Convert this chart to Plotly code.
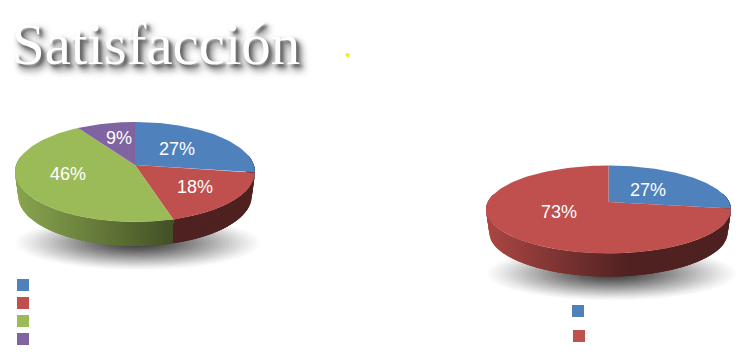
import numpy as np
import plotly.graph_objects as go

W, H = 753, 357
PAGE_MARGIN = 8  # the browser's default body margin around the figure
TITLE = "Satisfacción"

left_values = [27.3, 18.2, 45.5, 9.1]
left_colors = ["#4f81bd", "#c0504d", "#9bbb59", "#8064a2"]
right_values = [27.3, 72.7]
right_colors = ["#4f81bd", "#c0504d"]

# (centre x, centre y, radius x, radius y, apex y, depth, x where the side is darkest)
left_geo = dict(cx=135.0, cy=172.0, rx=120.0, ry=50.0, ay=165.0, depth=24.0, dark_x=175.0)
right_geo = dict(cx=608.5, cy=209.5, rx=122.5, ry=44.0, ay=202.0, depth=23.0, dark_x=625.0)
TAPER = 0.972

left_labels = [("27%", 177, 149), ("18%", 195, 187), ("46%", 68, 174), ("9%", 119, 138)]
right_labels = [("27%", 648, 190), ("73%", 559, 212)]

left_legend_y = [285, 303, 321, 339]
left_legend_x = 23
right_legend = [(578, 311), (579, 336)]


def rgb(h):
    return np.array([int(h[i:i + 2], 16) for i in (1, 3, 5)], float)


def css(c):
    return "rgb(%d,%d,%d)" % tuple(int(round(v)) for v in c)


def rim(g, turn):
    """Point where the ray at `turn` from the off-centre apex meets the ellipse."""
    dx = np.sin(turn) * g["rx"]
    dy = -np.cos(turn) * g["ry"]
    oy = g["ay"] - g["cy"]
    a = (dx / g["rx"]) ** 2 + (dy / g["ry"]) ** 2
    b = 2 * oy * dy / g["ry"] ** 2
    c = (oy / g["ry"]) ** 2 - 1
    s = (-b + np.sqrt(b * b - 4 * a * c)) / (2 * a)
    return g["cx"] + s * dx, g["ay"] + s * dy


def poly(fig, xs, ys, color, line=0.0):
    fig.add_trace(go.Scatter(
        x=list(xs), y=list(ys), mode="lines", fill="toself", fillcolor=color,
        line=dict(color=color, width=line), hoverinfo="skip", showlegend=False))


def shadow(fig, g):
    sx, sy = g["cx"] + 3, g["cy"] + g["ry"] + g["depth"] - 3
    steps = 32
    t = np.linspace(0, 2 * np.pi, 90)
    for i in range(steps):
        k = 1 - i / steps
        alpha = 0.018 + 0.052 * i / steps
        poly(fig, sx + (g["rx"] + 2) * k * np.cos(t), sy + 27 * k * np.sin(t),
             "rgba(0,0,0,%.3f)" % alpha)


def pie(fig, g, values, colors):
    total = sum(values)
    fr = np.cumsum([0] + list(values)) / total * 2 * np.pi
    shadow(fig, g)
    left_edge = g["cx"] - g["rx"]
    for i, col in enumerate(colors):
        a0, a1 = max(fr[i], np.pi / 2 - 0.2), min(fr[i + 1], 3 * np.pi / 2 + 0.2)
        if a1 <= a0:
            continue
        n = max(2, int((a1 - a0) * 45))
        ts = np.linspace(a0, a1, n + 1)
        base = rgb(col)
        step = ts[1] - ts[0]
        for t0, t1 in zip(ts[:-1], ts[1:]):
            # every strip laps over the one drawn before it, so no seam shows
            arc = np.linspace(max(a0, t0 - 1.5 * step), t1, 5)
            pts = [rim(g, t) for t in arc]
            xs = [p[0] for p in pts]
            ys = [p[1] for p in pts]
            x0, _ = rim(g, t0)
            x1, _ = rim(g, t1)
            u = np.clip(((x0 + x1) / 2 - left_edge) / (g["dark_x"] - left_edge), 0, 1)
            c = css(base * (0.88 + (0.41 - 0.88) * u))
            low_x = [g["cx"] + (x - g["cx"]) * TAPER for x in xs[::-1]]
            poly(fig, xs + low_x, ys + [y + g["depth"] for y in ys[::-1]], c)
    for i, col in enumerate(colors):
        ts = np.linspace(fr[i], fr[i + 1], 120)
        pts = [rim(g, t) for t in ts]
        poly(fig, [g["cx"]] + [p[0] for p in pts], [g["ay"]] + [p[1] for p in pts], col)


fig = go.Figure()
pie(fig, left_geo, left_values, left_colors)
pie(fig, right_geo, right_values, right_colors)

fig.add_trace(go.Scatter(
    x=[left_legend_x] * len(left_legend_y) + [p[0] for p in right_legend],
    y=left_legend_y + [p[1] for p in right_legend],
    mode="markers",
    marker=dict(symbol="square", size=12, color=left_colors + right_colors, line=dict(width=0)),
    hoverinfo="skip", showlegend=False))
fig.add_trace(go.Scatter(x=[347.5], y=[55], mode="markers",
                         marker=dict(symbol="diamond", size=4, color="#ffee00"),
                         hoverinfo="skip", showlegend=False))

ann = [dict(x=10, y=79, xref="x", yref="y", xanchor="left", yanchor="bottom",
            text=TITLE, showarrow=False,
            font=dict(family="Liberation Serif", size=59, color="#ffffff",
                      shadow="3px 3px 3px #666666, 4px 5px 6px #777777, 5px 6px 9px #aaaaaa")),
       dict(x=595, y=311, xref="x", yref="y", xanchor="left", text="Satisfacción", showarrow=False,
            font=dict(family="Liberation Sans", size=15, color="#ffffff"))]
for t, x, y in left_labels + right_labels:
    ann.append(dict(x=x, y=y, xref="x", yref="y", text=t, showarrow=False,
                    font=dict(family="Liberation Sans", size=18, color="#ffffff")))

fig.update_layout(
    width=W - 2 * PAGE_MARGIN, height=H - 2 * PAGE_MARGIN, margin=dict(l=0, r=0, t=0, b=0),
    paper_bgcolor="#ffffff", plot_bgcolor="#ffffff", showlegend=False,
    xaxis=dict(range=[PAGE_MARGIN, W - PAGE_MARGIN], visible=False, fixedrange=True),
    yaxis=dict(range=[H - PAGE_MARGIN, PAGE_MARGIN], visible=False, fixedrange=True),
    annotations=ann)
fig.write_html("out.html", config=dict(displayModeBar=False))
